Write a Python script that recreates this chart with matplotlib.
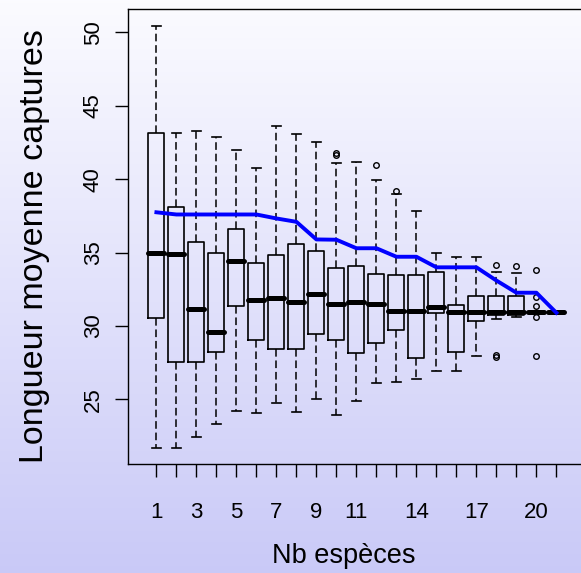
import numpy as np
import matplotlib
matplotlib.use("Agg")
import matplotlib.pyplot as plt

plt.rcParams['font.family'] = ['Liberation Sans', 'DejaVu Sans']

# Boxplot summary values, one entry per number of species (1..21)
nb_especes = list(range(1, 22))
whislo = [21.7, 21.7, 22.45, 23.3, 24.2, 24.05, 24.77, 24.16, 25.04, 23.93, 24.9,
          26.1, 26.2, 26.37, 26.95, 26.95, 27.98, 30.5, 30.63, 30.95, 30.95]
q1 = [30.57, 27.52, 27.52, 28.25, 31.34, 29.02, 28.43, 28.43, 29.43, 29.05, 28.14,
      28.82, 29.73, 27.82, 30.9, 28.25, 30.34, 30.75, 30.75, 30.95, 30.95]
med = [35.0, 34.89, 31.18, 29.6, 34.4, 31.77, 31.93, 31.66, 32.2, 31.5, 31.66,
       31.5, 31.05, 31.05, 31.32, 30.95, 30.95, 30.95, 30.97, 30.95, 30.95]
q3 = [43.16, 38.13, 35.7, 35.0, 36.6, 34.27, 34.84, 35.57, 35.13, 33.93, 34.1,
      33.52, 33.5, 33.5, 33.68, 31.43, 32.04, 32.04, 32.04, 30.95, 30.95]
whishi = [50.45, 43.16, 43.3, 42.9, 42.0, 40.8, 43.6, 43.1, 42.56, 41.1, 41.2,
          39.95, 39.0, 37.86, 34.96, 34.68, 34.68, 33.67, 33.6, 30.95, 30.95]
fliers = [[], [], [], [], [], [], [], [], [], [41.66, 41.8], [],
          [40.97], [39.22], [], [], [], [], [34.16, 28.0, 27.9], [34.1],
          [33.82, 32.0, 31.36, 30.63, 27.95], []]

# blue line (max of the mean lengths)
courbe = [37.75, 37.6, 37.6, 37.6, 37.6, 37.6, 37.33, 37.1, 35.9, 35.88, 35.3,
          35.3, 34.72, 34.72, 34.0, 34.0, 34.0, 33.1, 32.27, 32.27, 30.9]

xlabels_shown = [1, 3, 5, 7, 9, 11, 14, 17, 20]
yticks = [25, 30, 35, 40, 45, 50]

fig = plt.figure(figsize=(5.81, 5.73), dpi=100)

# gradient background
bg = fig.add_axes([0, 0, 1, 1], zorder=0)
top = np.array([0.985, 0.985, 1.0])
bottom = np.array([0.79, 0.79, 0.97])
t = np.linspace(0, 1, 256)[:, None]
grad = top * (1 - t) + bottom * t
bg.imshow(grad[:, None, :], aspect='auto', extent=[0, 1, 0, 1])
bg.axis('off')

ax = fig.add_axes([128 / 581, 109 / 573, 456 / 581, 455 / 573], zorder=1)
ax.set_facecolor('none')

stats = []
for i in range(len(nb_especes)):
    stats.append(dict(whislo=whislo[i], q1=q1[i], med=med[i], q3=q3[i],
                      whishi=whishi[i], fliers=fliers[i]))

ax.bxp(stats, positions=nb_especes, widths=0.8, showfliers=True,
       boxprops=dict(color='black', linewidth=1.2),
       medianprops=dict(color='black', linewidth=3.6, solid_capstyle='round'),
       whiskerprops=dict(color='black', linewidth=1.1, linestyle=(0, (5, 2.5))),
       capprops=dict(color='black', linewidth=1.2),
       flierprops=dict(marker='o', markerfacecolor='none', markeredgecolor='black',
                       markersize=4, markeredgewidth=1.0),
       capwidths=0.45)

ax.plot(nb_especes, courbe, color='#0000FF', linewidth=2.8, zorder=5)

ax.set_xlim(-0.42, 22.38)
ax.set_ylim(20.6, 51.6)
ax.set_xticks(nb_especes)
ax.set_xticklabels([str(n) if n in xlabels_shown else '' for n in nb_especes], fontsize=16)
ax.set_yticks(yticks)
ax.set_yticklabels([str(v) for v in yticks], fontsize=16, rotation=90, va='center')
ax.tick_params(axis='x', direction='out', length=9.4, width=1.0, pad=18)
ax.tick_params(axis='y', direction='out', length=9.4, width=1.0, pad=8)
for s in ax.spines.values():
    s.set_linewidth(1.0)
    s.set_color('black')

fig.text(35 / 581, 1 - 246 / 573, 'Longueur moyenne captures', rotation=90,
         ha='center', va='center', fontsize=24.5)
fig.text(344 / 581, 10 / 573, 'Nb espèces', ha='center', va='baseline', fontsize=19.5)

fig.savefig('out.png', dpi=100)
